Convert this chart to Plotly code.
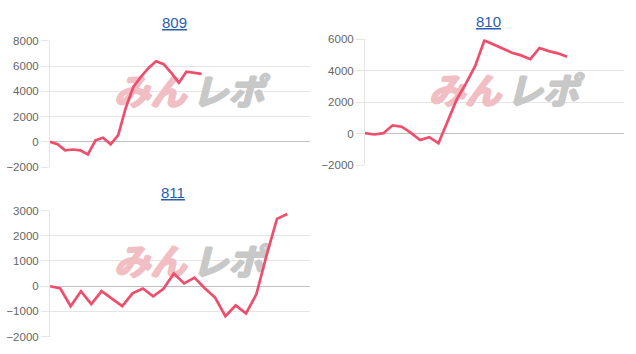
import plotly.graph_objects as go

W, H = 636, 354

titles = ["809", "810", "811"]
s809 = [0, -200, -680, -610, -680, -1000, 120, 320, -200, 520, 2700, 4350, 5150, 5850, 6380,
        6150, 5450, 4680, 5550, 5480, 5380]
s810 = [50, -40, 40, 540, 450, 60, -390, -210, -600, 800, 2200, 3200, 4300, 5920, 5650, 5380,
        5140, 4970, 4730, 5440, 5240, 5100, 4890]
s811 = [0, -90, -790, -200, -710, -195, -490, -790, -280, -90, -400, -100, 500, 110, 340, -80,
        -450, -1190, -760, -1080, -320, 1240, 2670, 2860]
series = [s809, s810, s811]

y_ranges = [[-2000, 8000], [-2000, 6000], [-2000, 3000]]
y_dticks = [2000, 2000, 1000]
x_ranges = [[0, 34.3], [0, 28.2], [0, 25.2]]

boxes = [(50, 310, 36, 166.7), (365, 624, 34.3, 165), (50, 310, 211.7, 342.3)]
title_pos = [(174, 17), (488, 16), (173, 193)]

LINE = "rgb(238,78,108)"
GRID = "rgba(0,0,0,0.1)"
ZERO = "rgba(0,0,0,0.25)"
WM_PINK = "rgb(241,190,196)"
WM_GRAY = "rgb(200,200,200)"


def bold_shadow(c):
    return (f"1px 0px 0px {c}, -1px 0px 0px {c}, 0px 1px 0px {c}, "
            f"0px -1px 0px {c}, 1.5px 0px 0px {c}")


fig = go.Figure()
annotations = []
for i, (vals, (l, r, t, b)) in enumerate(zip(series, boxes)):
    n = i + 1
    xa = "x" if n == 1 else f"x{n}"
    ya = "y" if n == 1 else f"y{n}"
    xr, yr = x_ranges[i], y_ranges[i]
    wy = yr[0] + 0.56 * (yr[1] - yr[0])
    for frac, word, col in [(0.385, "みん", WM_PINK), (0.685, "レポ", WM_GRAY)]:
        fig.add_trace(go.Scatter(
            x=[xr[0] + frac * (xr[1] - xr[0])], y=[wy], mode="text", text=[word],
            textfont=dict(family="Noto Sans CJK JP", size=36, weight="bold",
                          style="italic", color=col, shadow=bold_shadow(col)),
            hoverinfo="skip", showlegend=False, xaxis=xa, yaxis=ya))
    fig.add_trace(go.Scatter(
        x=list(range(len(vals))), y=vals, mode="lines",
        line=dict(color=LINE, width=2.7), showlegend=False, xaxis=xa, yaxis=ya))
    fig.update_layout({
        ("xaxis" if n == 1 else f"xaxis{n}"): dict(
            domain=[l / W, r / W], range=xr, showgrid=False, zeroline=False,
            showticklabels=False, showline=False, anchor=ya, fixedrange=True),
        ("yaxis" if n == 1 else f"yaxis{n}"): dict(
            domain=[1 - b / H, 1 - t / H], range=yr, dtick=y_dticks[i], tick0=0,
            showgrid=True, gridcolor=GRID, gridwidth=1,
            zeroline=True, zerolinecolor=ZERO, zerolinewidth=1,
            showline=True, linecolor=GRID, linewidth=1,
            ticks="outside", ticklen=8, tickcolor=GRID,
            tickfont=dict(family="Liberation Sans, Arial", size=11.5, color="#666"),
            anchor=xa, fixedrange=True),
    })
    tx, ty = title_pos[i]
    annotations.append(dict(
        text=f"<u>{titles[i]}</u>", x=tx / W, y=1 - ty / H, xref="paper", yref="paper",
        xanchor="center", yanchor="middle", showarrow=False,
        font=dict(family="Liberation Sans, Arial", size=15, color="#2a5db0")))

fig.update_layout(
    width=W, height=H, margin=dict(l=0, r=0, t=0, b=0),
    paper_bgcolor="white", plot_bgcolor="white",
    annotations=annotations, showlegend=False)

fig.write_html("out.html", config={"displayModeBar": False})
